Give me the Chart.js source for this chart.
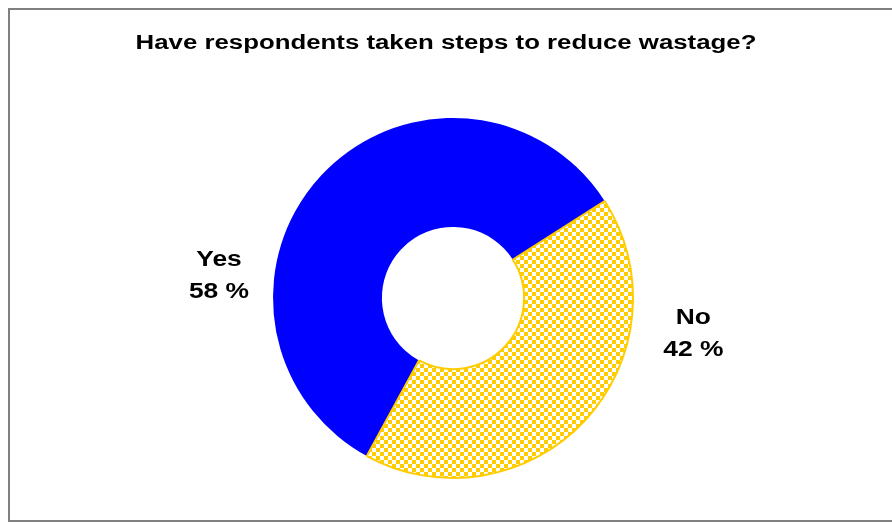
<!DOCTYPE html>
<html>
<head>
<meta charset="utf-8">
<script src="https://cdn.jsdelivr.net/npm/chart.js@4/dist/chart.umd.min.js"></script>
<style>
  html, body { margin: 0; padding: 0; background: #fff; }
  #wrap { position: relative; width: 892px; height: 522px; overflow: hidden; }
  #frame { position: absolute; left: 8px; top: 8px; width: 900px; height: 510px; border: 2px solid #808080; box-sizing: content-box; }
  canvas { position: absolute; left: 0; top: 0; }
</style>
</head>
<body>
<div id="wrap">
  <div id="frame"></div>
  <canvas id="c" width="892" height="522"></canvas>
</div>
<script>
const titleText = 'Have respondents taken steps to reduce wastage?';
const categories = ['Yes', 'No'];
const percentages = [58, 42];
const sliceColors = ['#0000FF', '#FFCC00'];

function checker(color) {
  const p = document.createElement('canvas');
  p.width = 8; p.height = 8;
  const g = p.getContext('2d');
  g.fillStyle = '#FFFFFF'; g.fillRect(0, 0, 8, 8);
  g.fillStyle = color; g.fillRect(0, 0, 4, 4); g.fillRect(4, 4, 4, 4);
  return g.createPattern(p, 'repeat');
}

function stretchedText(c, text, x, y, sx) {
  c.save();
  c.translate(x, y);
  c.scale(sx, 1);
  c.fillText(text, 0, 0);
  c.restore();
}

const ctx = document.getElementById('c').getContext('2d');

const labelPlugin = {
  id: 'sliceLabels',
  afterDraw(chart) {
    const c = chart.ctx;
    const arcs = chart.getDatasetMeta(0).data;
    if (!arcs.length) return;
    const cx = arcs[0].x, cy = arcs[0].y, R = arcs[0].outerRadius;
    const offsets = [[-1.30, -0.122], [1.335, 0.2]];
    c.save();
    c.fillStyle = '#000';
    c.textAlign = 'center';
    c.textBaseline = 'middle';
    c.font = 'bold 22px "Liberation Sans", Arial, sans-serif';
    categories.forEach((cat, i) => {
      const x = cx + offsets[i][0] * R;
      const y = cy + offsets[i][1] * R;
      stretchedText(c, cat, x, y - 16, 1.2);
      stretchedText(c, percentages[i] + ' %', x, y + 16, 1.2);
    });
    c.font = 'bold 20px "Liberation Sans", Arial, sans-serif';
    stretchedText(c, titleText, 446, 43, 1.29);
    c.restore();
  }
};

new Chart(ctx, {
  type: 'doughnut',
  data: {
    labels: categories,
    datasets: [{
      data: percentages,
      backgroundColor: [sliceColors[0], checker(sliceColors[1])],
      borderColor: sliceColors,
      borderWidth: [0, 2]
    }]
  },
  options: {
    responsive: false,
    animation: false,
    rotation: 208.6,
    cutout: '39.5%',
    layout: { padding: { left: 272, right: 258, top: 117, bottom: 43 } },
    plugins: { legend: { display: false }, tooltip: { enabled: false }, title: { display: false } }
  },
  plugins: [labelPlugin]
});
</script>
</body>
</html>
